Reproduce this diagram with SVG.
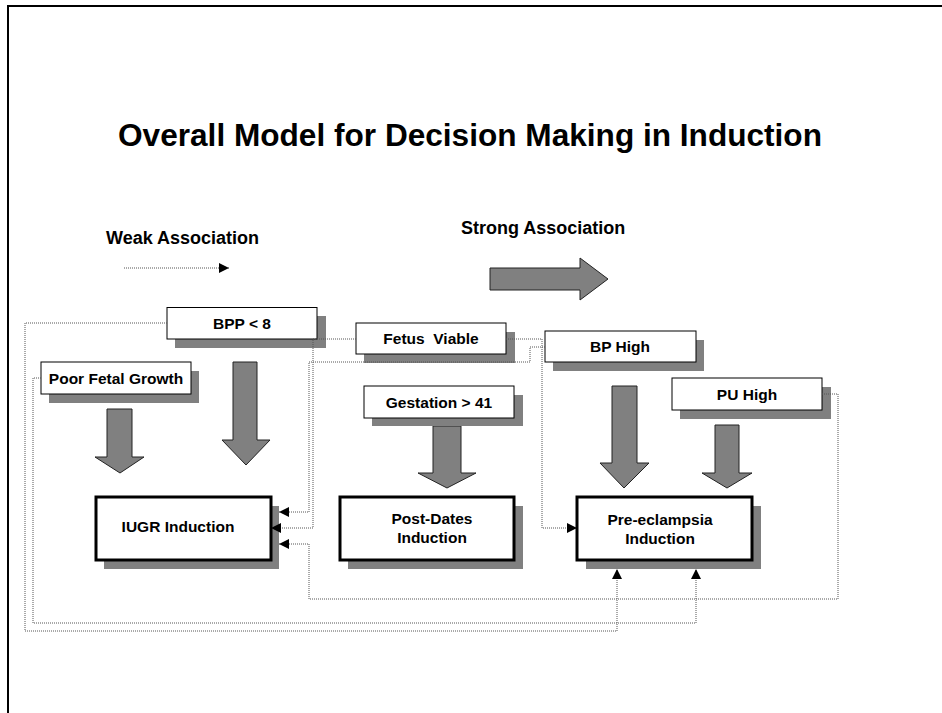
<svg xmlns="http://www.w3.org/2000/svg" width="942" height="713" viewBox="0 0 942 713">
<style>
text{font-family:"Liberation Sans",Arial,sans-serif;font-weight:bold;fill:#000}
.lbl{font-size:15.5px;text-anchor:middle}
.shadow{fill:#808080}
.box{fill:#fff;stroke:#000;stroke-width:1}
.ibox{fill:#fff;stroke:#000;stroke-width:3}
.big{fill:#808080;stroke:#222;stroke-width:1}
.dot{fill:none;stroke:#555;stroke-width:1;stroke-dasharray:1 1}
</style>
<defs>
<marker id="ah" viewBox="0 0 10 10" refX="10" refY="5" markerWidth="10" markerHeight="10" markerUnits="userSpaceOnUse" orient="auto">
<path d="M0,0 L10,5 L0,10 z" fill="#000"/>
</marker>
</defs>
<rect width="942" height="713" fill="#fff"/>
<path d="M8,713 V6 H942" fill="none" stroke="#000" stroke-width="2"/>
<text x="470" y="146" font-size="31.6" text-anchor="middle">Overall Model for Decision Making in Induction</text>
<g id="legend">
<text x="106" y="244" font-size="18">Weak Association</text>
<text x="461" y="234" font-size="18">Strong Association</text>
<path class="dot" d="M124,268 H229" marker-end="url(#ah)"/>
<polygon class="big" points="490,268 580,268 580,258 608,279 580,300 580,290 490,290"/>
</g>
<g id="big-arrows">
<polygon class="big" points="107,409 132,409 132,457 144,457 120,473 95,457 107,457"/>
<polygon class="big" points="233,362 257,362 257,440 270,440 246,465 222,440 233,440"/>
<polygon class="big" points="433,426 461,426 461,473 476,473 447,488 418,473 433,473"/>
<polygon class="big" points="612,386 637,386 637,463 649,463 624,488 600,463 612,463"/>
<polygon class="big" points="715,425 739,425 739,473 752,473 727,488 702,473 715,473"/>
</g>
<g id="n-bpp">
<rect class="shadow" x="175" y="316" width="151" height="32"/>
<rect class="box" x="167" y="307.5" width="150" height="31.5"/>
<text class="lbl" x="242" y="329">BPP &lt; 8</text>
</g>
<g id="n-pfg">
<rect class="shadow" x="49" y="371" width="150" height="32"/>
<rect class="box" x="41" y="362" width="150" height="32"/>
<text class="lbl" x="116" y="384">Poor Fetal Growth</text>
</g>
<g id="n-fetus">
<rect class="shadow" x="364" y="332" width="151" height="31"/>
<rect class="box" x="356" y="323" width="150" height="31"/>
<text class="lbl" x="431" y="344" xml:space="preserve">Fetus  Viable</text>
</g>
<g id="n-bp">
<rect class="shadow" x="553" y="340" width="151" height="31"/>
<rect class="box" x="545" y="331" width="151" height="31"/>
<text class="lbl" x="620" y="352">BP High</text>
</g>
<g id="n-gest">
<rect class="shadow" x="372" y="395" width="151" height="31"/>
<rect class="box" x="364" y="386" width="150" height="32"/>
<text class="lbl" x="439" y="408">Gestation &gt; 41</text>
</g>
<g id="n-pu">
<rect class="shadow" x="680" y="387" width="151" height="32"/>
<rect class="box" x="672" y="378" width="150" height="32"/>
<text class="lbl" x="747" y="400">PU High</text>
</g>
<g id="n-iugr">
<rect class="shadow" x="104" y="506" width="175" height="63"/>
<rect class="ibox" x="96" y="497" width="175" height="63"/>
<text class="lbl" x="178" y="532">IUGR Induction</text>
</g>
<g id="n-post">
<rect class="shadow" x="348" y="506" width="175" height="63"/>
<rect class="ibox" x="340" y="497" width="174" height="63"/>
<text class="lbl" x="432" y="524">Post-Dates</text>
<text class="lbl" x="432" y="543">Induction</text>
</g>
<g id="n-pre">
<rect class="shadow" x="586" y="506" width="175" height="63"/>
<rect class="ibox" x="577" y="497" width="175" height="63"/>
<text class="lbl" x="660" y="525">Pre-eclampsia</text>
<text class="lbl" x="660" y="544">Induction</text>
</g>
<g id="connectors">
<path class="dot" d="M167,323 H25 V631 H617 V569" marker-end="url(#ah)"/>
<path class="dot" d="M41,378 H33 V623 H696 V569" marker-end="url(#ah)"/>
<path class="dot" d="M545,347 H530 V362 H309 V512 H279" marker-end="url(#ah)"/>
<path class="dot" d="M356,339 H313 V528 H271" marker-end="url(#ah)"/>
<path class="dot" d="M506,339 H542 V528 H577" marker-end="url(#ah)"/>
<path class="dot" d="M822,394 H838 V599 H309 V544 H279" marker-end="url(#ah)"/>
</g>
</svg>
